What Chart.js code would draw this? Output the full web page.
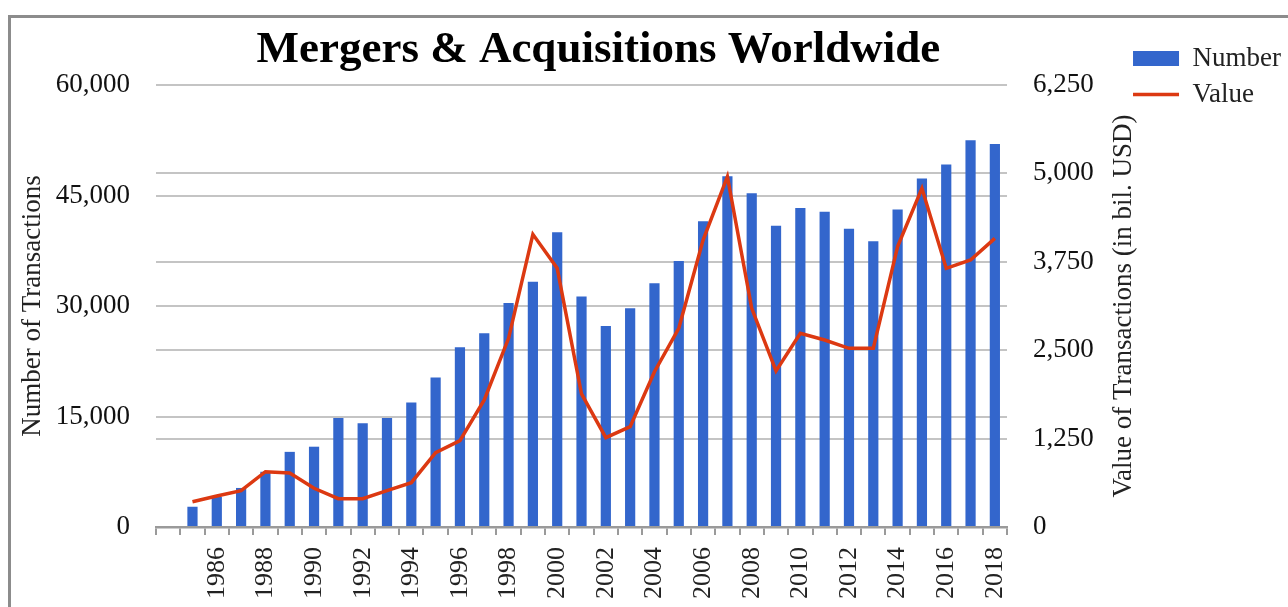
<!DOCTYPE html>
<html>
<head>
<meta charset="utf-8">
<script src="https://cdn.jsdelivr.net/npm/chart.js@4/dist/chart.umd.min.js"></script>
<style>
    html, body { margin: 0; padding: 0; background: #fff; overflow: hidden; }
    #frame { position: absolute; left: 8px; top: 15px; width: 1400px; height: 700px;
             border-left: 3px solid #8c8c8c; border-top: 3px solid #8c8c8c; }
    #wrap { position: absolute; left: 0; top: 0; width: 1288px; height: 607px; }
</style>
</head>
<body>
<div id="frame"></div>
<div id="wrap"><canvas id="mna_chart" width="1288" height="607"></canvas></div>
<script>
// first slot is left empty, like in the source chart
var years = ['', '1985', '1986', '1987', '1988', '1989', '1990', '1991', '1992', '1993', '1994',
    '1995', '1996', '1997', '1998', '1999', '2000', '2001', '2002', '2003', '2004',
    '2005', '2006', '2007', '2008', '2009', '2010', '2011', '2012', '2013', '2014',
    '2015', '2016', '2017', '2018'];

var numberOfDeals = [null, 2750, 4100, 5300, 7500, 10200, 10900, 14800, 14100, 14800, 16900,
    20300, 24400, 26300, 30400, 33300, 40000, 31300, 27300, 29700, 33100,
    36100, 41500, 47600, 45300, 40900, 43300, 42800, 40500, 38800, 43100,
    47300, 49200, 52500, 52000];

var valueOfDeals = [null, 358, 438, 514, 782, 764, 547, 401, 401, 514, 627,
    1051, 1221, 1796, 2668, 4139, 3658, 1881, 1263, 1418, 2196,
    2810, 4058, 4954, 3092, 2206, 2739, 2644, 2527, 2527, 3964,
    4789, 3658, 3776, 4082];

var leftTicks = [0, 15000, 30000, 45000, 60000];
var rightTicks = [0, 1250, 2500, 3750, 5000, 6250];

var chartTitle = '   Mergers & Acquisitions Worldwide';
var leftTitle = 'Number of Transactions';
var rightTitle = 'Value of Transactions (in bil. USD)';

var serif = '"Liberation Serif", "Times New Roman", serif';
var gridColor = '#c4c4c4';

// Chart.js turns a right axis title the other way, so draw it here
var rightTitlePlugin = {
    id: 'rightTitle',
    afterDraw: function (chart) {
        var s = chart.scales.y1;
        var ctx = chart.ctx;
        ctx.save();
        ctx.translate(s.left + 117, (s.top + s.bottom) / 2);
        ctx.rotate(-Math.PI / 2);
        ctx.font = '27px ' + serif;
        ctx.fillStyle = '#222';
        ctx.textAlign = 'center';
        ctx.textBaseline = 'middle';
        ctx.fillText(rightTitle, 0, 0);
        ctx.restore();
    }
};

new Chart(document.getElementById('mna_chart').getContext('2d'), {
    type: 'bar',
    data: {
        labels: years,
        datasets: [{
            type: 'line',
            label: 'Value',
            data: valueOfDeals,
            yAxisID: 'y1',
            borderColor: '#dc3912',
            backgroundColor: '#dc3912',
            borderWidth: 3.5,
            pointRadius: 0,
            pointStyle: 'line',
            tension: 0,
            order: 0
        }, {
            type: 'bar',
            label: 'Number',
            data: numberOfDeals,
            yAxisID: 'y',
            backgroundColor: '#3366cc',
            borderWidth: 0,
            pointStyle: 'rect',
            barPercentage: 0.42,
            categoryPercentage: 1,
            order: 1
        }]
    },
    options: {
        responsive: false,
        animation: false,
        layout: { padding: { top: 36, right: -3, bottom: 0, left: 0 } },
        plugins: {
            title: {
                display: true,
                text: chartTitle,
                fullSize: false,
                color: '#000',
                font: { family: serif, size: 45, weight: 'bold' },
                padding: { top: -13, bottom: 8 }
            },
            legend: {
                position: 'right',
                align: 'start',
                reverse: true,
                labels: {
                    usePointStyle: true,
                    pointStyleWidth: 46,
                    boxHeight: 15,
                    padding: 9,
                    color: '#222',
                    font: { family: serif, size: 27 }
                }
            },
            tooltip: { enabled: false }
        },
        scales: {
            x: {
                grid: {
                    offset: true,
                    drawOnChartArea: false,
                    drawTicks: true,
                    tickLength: 8,
                    color: '#9a9a9a',
                    lineWidth: 2
                },
                border: { display: true, color: '#9a9a9a', width: 2.5 },
                ticks: {
                    autoSkip: false,
                    minRotation: 90,
                    maxRotation: 90,
                    padding: 12,
                    color: '#222',
                    font: { family: serif, size: 26 },
                    callback: function (val, i) {
                        return i % 2 === 0 ? this.getLabelForValue(val) : '';
                    }
                },
                afterFit: function (scale) { scale.height = 80; }
            },
            y: {
                position: 'left',
                min: leftTicks[0],
                max: leftTicks[leftTicks.length - 1],
                afterBuildTicks: function (scale) {
                    scale.ticks = leftTicks.map(function (v) { return { value: v }; });
                },
                grid: { color: gridColor, lineWidth: 2, drawTicks: false },
                border: { display: false },
                ticks: {
                    padding: 26,
                    color: '#111',
                    font: { family: serif, size: 27 }
                },
                title: {
                    display: true,
                    text: leftTitle,
                    color: '#222',
                    font: { family: serif, size: 27 },
                    padding: { top: 17, bottom: 0 }
                },
                afterFit: function (scale) { scale.width = 156; }
            },
            y1: {
                position: 'right',
                min: rightTicks[0],
                max: rightTicks[rightTicks.length - 1],
                afterBuildTicks: function (scale) {
                    scale.ticks = rightTicks.map(function (v) { return { value: v }; });
                },
                grid: { color: gridColor, lineWidth: 2, drawTicks: false },
                border: { display: false },
                ticks: {
                    padding: 26,
                    color: '#111',
                    font: { family: serif, size: 27 }
                },
                afterFit: function (scale) { scale.width = 117; }
            }
        }
    },
    plugins: [rightTitlePlugin]
});
</script>
</body>
</html>
